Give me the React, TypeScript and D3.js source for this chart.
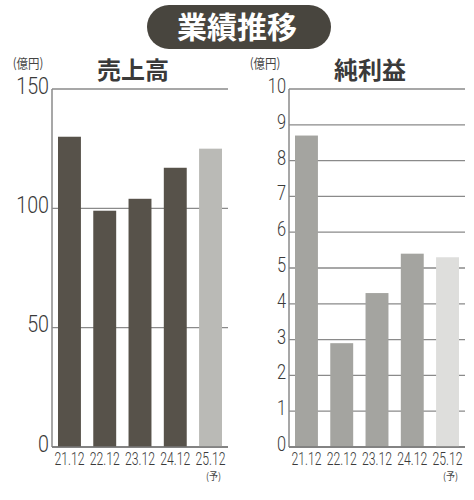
import React from "react";
import * as d3 from "d3";

const categories = ["21.12", "22.12", "23.12", "24.12", "25.12"];
const forecastFlags = [false, false, false, false, true];
const salesValues = [130, 99, 104, 117, 125];
const profitValues = [8.7, 2.9, 4.3, 5.4, 5.3];
const salesTicks = [0, 50, 100, 150];
const profitTicks = [0, 1, 2, 3, 4, 5, 6, 7, 8, 9, 10];
const title = "業績推移";
const salesTitle = "売上高";
const profitTitle = "純利益";
const unitLabel = "(億円)";
const forecastLabel = "(予)";

const numFont = "Roboto, 'Liberation Sans', sans-serif";
const jpFont = "'Noto Sans CJK JP', sans-serif";

function SText({ x, y, sx, children, ...rest }: any) {
  return (
    <text transform={`translate(${x},${y}) scale(${sx},1)`} {...rest}>
      {children}
    </text>
  );
}

function Panel({ x0, values, ticks, maxV, chartTitle, color, foreColor, tickSize }: any) {
  const top = 89;
  const bottom = 447;
  const left = x0 + 52;
  const right = x0 + 228;
  const y = d3.scaleLinear().domain([0, maxV]).range([bottom, top]);
  const x = d3.scaleBand().domain(categories).range([left, right]).paddingInner(0.35).paddingOuter(0.17);
  return (
    <g>
      <text x={x0 + 133} y={79} textAnchor="middle" fontFamily={jpFont} fontWeight={700} fontSize={24} fill="#3a3a3a">
        {chartTitle}
      </text>
      <SText x={x0 + 28} y={68} sx={0.88} textAnchor="middle" fontFamily={jpFont} fontSize={13} fill="#444">
        {unitLabel}
      </SText>
      {ticks.map((t: number) => (
        <line key={"g" + t} x1={left} x2={right} y1={y(t)} y2={y(t)} stroke="#8a8a8a" strokeWidth={1.3} />
      ))}
      {values.map((v: number, i: number) => (
        <rect
          key={i}
          x={x(categories[i])}
          y={y(v)}
          width={x.bandwidth()}
          height={bottom - y(v)}
          fill={forecastFlags[i] ? foreColor : color}
        />
      ))}
      {ticks.map((t: number) => (
        <SText
          key={"t" + t}
          x={left - 3}
          y={y(t) + tickSize * 0.2}
          sx={0.82}
          textAnchor="end"
          fontFamily={numFont}
          fontWeight={300}
          fontSize={tickSize}
          fill="#3a3a3a"
        >
          {t}
        </SText>
      ))}
      <line x1={left} x2={left} y1={top} y2={bottom} stroke="#8a8a8a" strokeWidth={1.5} />
      <line x1={left} x2={right} y1={bottom} y2={bottom} stroke="#777" strokeWidth={1.5} />
      {categories.map((c, i) => (
        <g key={c}>
          <SText
            x={(x(c) as number) + x.bandwidth() / 2}
            y={465}
            sx={0.68}
            textAnchor="middle"
            fontFamily={numFont}
            fontWeight={300}
            fontSize={18}
            fill="#3a3a3a"
          >
            {c}
          </SText>
          {forecastFlags[i] && (
            <SText
              x={(x(c) as number) + x.bandwidth() / 2 + 3}
              y={480}
              sx={0.9}
              textAnchor="middle"
              fontFamily={jpFont}
              fontSize={10}
              fill="#444"
            >
              {forecastLabel}
            </SText>
          )}
        </g>
      ))}
    </g>
  );
}

export default function App() {
  return (
    <svg width={474} height={500} style={{ position: "absolute", left: 0, top: 0, background: "#fff" }}>
      <rect x={147} y={5} width={184} height={44} rx={22} fill="#48453e" />
      <text x={237} y={38} textAnchor="middle" fontFamily={jpFont} fontWeight={700} fontSize={30} fill="#fff">
        {title}
      </text>
      <Panel x0={0} values={salesValues} ticks={salesTicks} maxV={150} chartTitle={salesTitle} color="#57524a" foreColor="#babab6" tickSize={24} />
      <Panel x0={237} values={profitValues} ticks={profitTicks} maxV={10} chartTitle={profitTitle} color="#a4a4a0" foreColor="#dededc" tickSize={20} />
    </svg>
  );
}
